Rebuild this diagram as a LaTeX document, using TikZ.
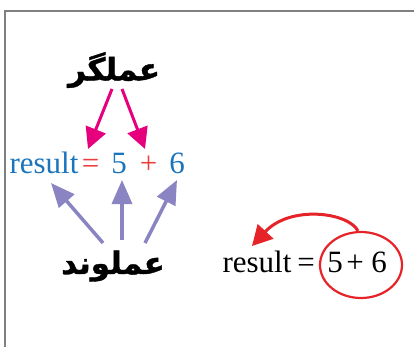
\documentclass[tikz,border=0pt]{standalone}
\usepackage{fontspec}
\setmainfont{Liberation Serif}
\newfontfamily\farsi[Script=Arabic,FakeBold=1.2]{DejaVu Sans Bold}
\TeXXeTstate=1
\usetikzlibrary{arrows.meta,shapes.geometric}
\definecolor{magentaA}{HTML}{E6007E}
\definecolor{blueA}{HTML}{1B75BC}
\definecolor{redA}{HTML}{EE3B3B}
\definecolor{redB}{HTML}{E52329}
\definecolor{purpleA}{HTML}{8A85C2}
\definecolor{frameA}{HTML}{808080}
\tikzset{
  eqtxt/.style={inner sep=0pt, anchor=base, font=\fontsize{31}{34}\selectfont},
  fatxt/.style={inner sep=0pt, font=\fontsize{31}{34}\selectfont\farsi},
  magarrow/.style={draw=magentaA, line width=3pt, -{Triangle[length=21pt,width=21pt]}},
  purarrow/.style={draw=purpleA, line width=3.5pt, -{Triangle[length=24pt,width=20pt]}},
  redarrow/.style={draw=redB, line width=3pt, -{Triangle[length=20pt,width=21pt]}},
}
\begin{document}
\begin{tikzpicture}[x=1pt,y=-1pt]
\useasboundingbox (0,0) rectangle (414,347);
% frame
\draw[frameA, line width=2.2pt] (5,347) -- (5,11) -- (414,11);
% operator label
\node[fatxt] (op) at (114,70) {\beginR عملگر\endR};
% left equation
\node[eqtxt, text=blueA] (res) at (44,174) {result};
\node[eqtxt, text=redA] (eq) at (90.5,174) {=};
\node[eqtxt, text=blueA] (five) at (119,174) {5};
\node[eqtxt, text=redA] (plus) at (148.5,174) {+};
\node[eqtxt, text=blueA] (six) at (177,174) {6};
% operand label
\node[fatxt] (opd) at (113,266) {\beginR عملوند\endR};
% magenta arrows
\coordinate (m1s) at (112,89);
\coordinate (m1e) at (88,149);
\coordinate (m2s) at (122,89);
\coordinate (m2e) at (145,149);
\draw[magarrow] (m1s) -- (m1e);
\draw[magarrow] (m2s) -- (m2e);
% purple arrows
\coordinate (p1s) at (103,243);
\coordinate (p1e) at (51,183);
\coordinate (p2s) at (122,240);
\coordinate (p2e) at (122,180);
\coordinate (p3s) at (145,243);
\coordinate (p3e) at (177,180);
\draw[purarrow] (p1s) -- (p1e);
\draw[purarrow] (p2s) -- (p2e);
\draw[purarrow] (p3s) -- (p3e);
% right equation
\node[eqtxt] (rres) at (257,272) {result};
\node[eqtxt] (req) at (306,272) {=};
\node[eqtxt] (rfive) at (335,272) {5};
\node[eqtxt] (rplus) at (355,272) {+};
\node[eqtxt] (rsix) at (379,272) {6};
\node[draw=redB, line width=2.2pt, ellipse, minimum width=82pt, minimum height=66pt, inner sep=0pt] (ell) at (361,265) {};
\coordinate (rtip) at (252,246);
\draw[redarrow] ([xshift=-3pt]ell.north) .. controls (348,212) and (290,205) .. (rtip);
\end{tikzpicture}
\end{document}
